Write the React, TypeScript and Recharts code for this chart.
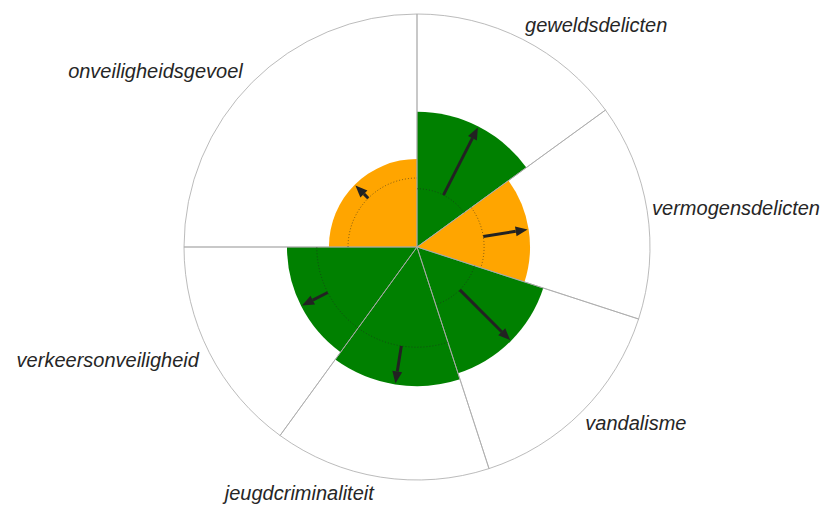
import { PieChart, Pie, Cell } from "recharts"

// sectors, clockwise from the top
const categories = ["geweldsdelicten", "vermogensdelicten", "vandalisme", "jeugdcriminaliteit", "verkeersonveiligheid", "onveiligheidsgevoel"]
const weights = [15, 15, 15, 15, 15, 25]
const previous = [25, 28.8, 26, 43, 43, 29.6]
const current = [58, 48.5, 57, 59.7, 55.8, 37.8]

const THRESHOLD = 50
const GREEN = "#008000"
const ORANGE = "#FFA500"
const CX = 417
const CY = 247
const R = 233
const MAX = 100
const RAD = Math.PI / 180

const data = categories.map((name, i) => ({ name, weight: weights[i], prev: previous[i], cur: current[i] }))
const rOf = (v: number) => (v / MAX) * R

function polar(cx: number, cy: number, r: number, angle: number) {
    return { x: cx + r * Math.cos(-angle * RAD), y: cy + r * Math.sin(-angle * RAD) }
}

function makeArrow(k: number) {
    return (p: any) => {
        if (p.index !== k) return <g />
        const r0 = rOf(previous[k])
        const r1 = p.outerRadius
        const a = p.midAngle
        const s = polar(p.cx, p.cy, r0, a)
        const tip = polar(p.cx, p.cy, r1 - 1, a)
        const base = polar(p.cx, p.cy, r1 - 13, a)
        const nx = -Math.sin(-a * RAD)
        const ny = Math.cos(-a * RAD)
        const hw = 5
        const a0 = polar(p.cx, p.cy, r0, p.startAngle)
        const a1 = polar(p.cx, p.cy, r0, p.endAngle)
        const sweep = p.startAngle > p.endAngle ? 1 : 0
        return (
            <g>
                <path d={`M${a0.x},${a0.y} A${r0},${r0} 0 0 ${sweep} ${a1.x},${a1.y}`} fill="none" stroke="#222" strokeWidth={0.8} strokeDasharray="1 2" opacity={0.7} />
                <line x1={s.x} y1={s.y} x2={base.x} y2={base.y} stroke="#222" strokeWidth={3} />
                <polygon points={`${tip.x},${tip.y} ${base.x + nx * hw},${base.y + ny * hw} ${base.x - nx * hw},${base.y - ny * hw}`} fill="#222" />
            </g>
        )
    }
}

function renderName(p: any) {
    const a = p.midAngle
    const pt = polar(p.cx, p.cy, p.outerRadius + 5, a)
    const cos = Math.cos(a * RAD)
    const sin = Math.sin(a * RAD)
    return (
        <text
            x={pt.x + (cos < 0 ? -6 : 0)}
            y={pt.y + 7 - 11 * sin}
            textAnchor={cos >= 0 ? "start" : "end"}
            fontFamily="'Liberation Sans', Arial, sans-serif"
            fontStyle="italic"
            fontSize={20}
            fill="#262626"
        >
            {p.payload?.name ?? p.name}
        </text>
    )
}

export default function App() {
    return (
        <div style={{ position: "absolute", left: 0, top: 0, width: 825, height: 508, background: "#fff" }}>
            <PieChart width={825} height={508} margin={{ top: 0, right: 0, bottom: 0, left: 0 }}>
                {/* background sectors */}
                <Pie data={data} dataKey="weight" nameKey="name" cx={CX} cy={CY} innerRadius={0} outerRadius={R}
                    startAngle={90} endAngle={-270} stroke="none" isAnimationActive={false}
                    label={renderName} labelLine={false}>
                    {data.map(d => <Cell key={d.name} fill="#fff" />)}
                </Pie>

                {/* one pie per sector for the filled value + arrow */}
                {data.map((d, k) => (
                    <Pie key={d.name} data={data} dataKey="weight" nameKey="name" cx={CX} cy={CY}
                        innerRadius={0} outerRadius={rOf(d.cur)} startAngle={90} endAngle={-270}
                        stroke="none" isAnimationActive={false} label={makeArrow(k)} labelLine={false}>
                        {data.map((e, i) => (
                            <Cell key={e.name} fill={i === k ? (e.cur >= THRESHOLD ? GREEN : ORANGE) : "none"} />
                        ))}
                    </Pie>
                ))}

                {/* grid lines on top */}
                <Pie data={data} dataKey="weight" nameKey="name" cx={CX} cy={CY} innerRadius={0} outerRadius={R}
                    startAngle={90} endAngle={-270} fill="none" stroke="#aaa" strokeWidth={0.8}
                    isAnimationActive={false}>
                    {data.map(d => <Cell key={d.name} fill="none" stroke="#aaa" strokeWidth={0.8} />)}
                </Pie>
            </PieChart>
        </div>
    )
}
